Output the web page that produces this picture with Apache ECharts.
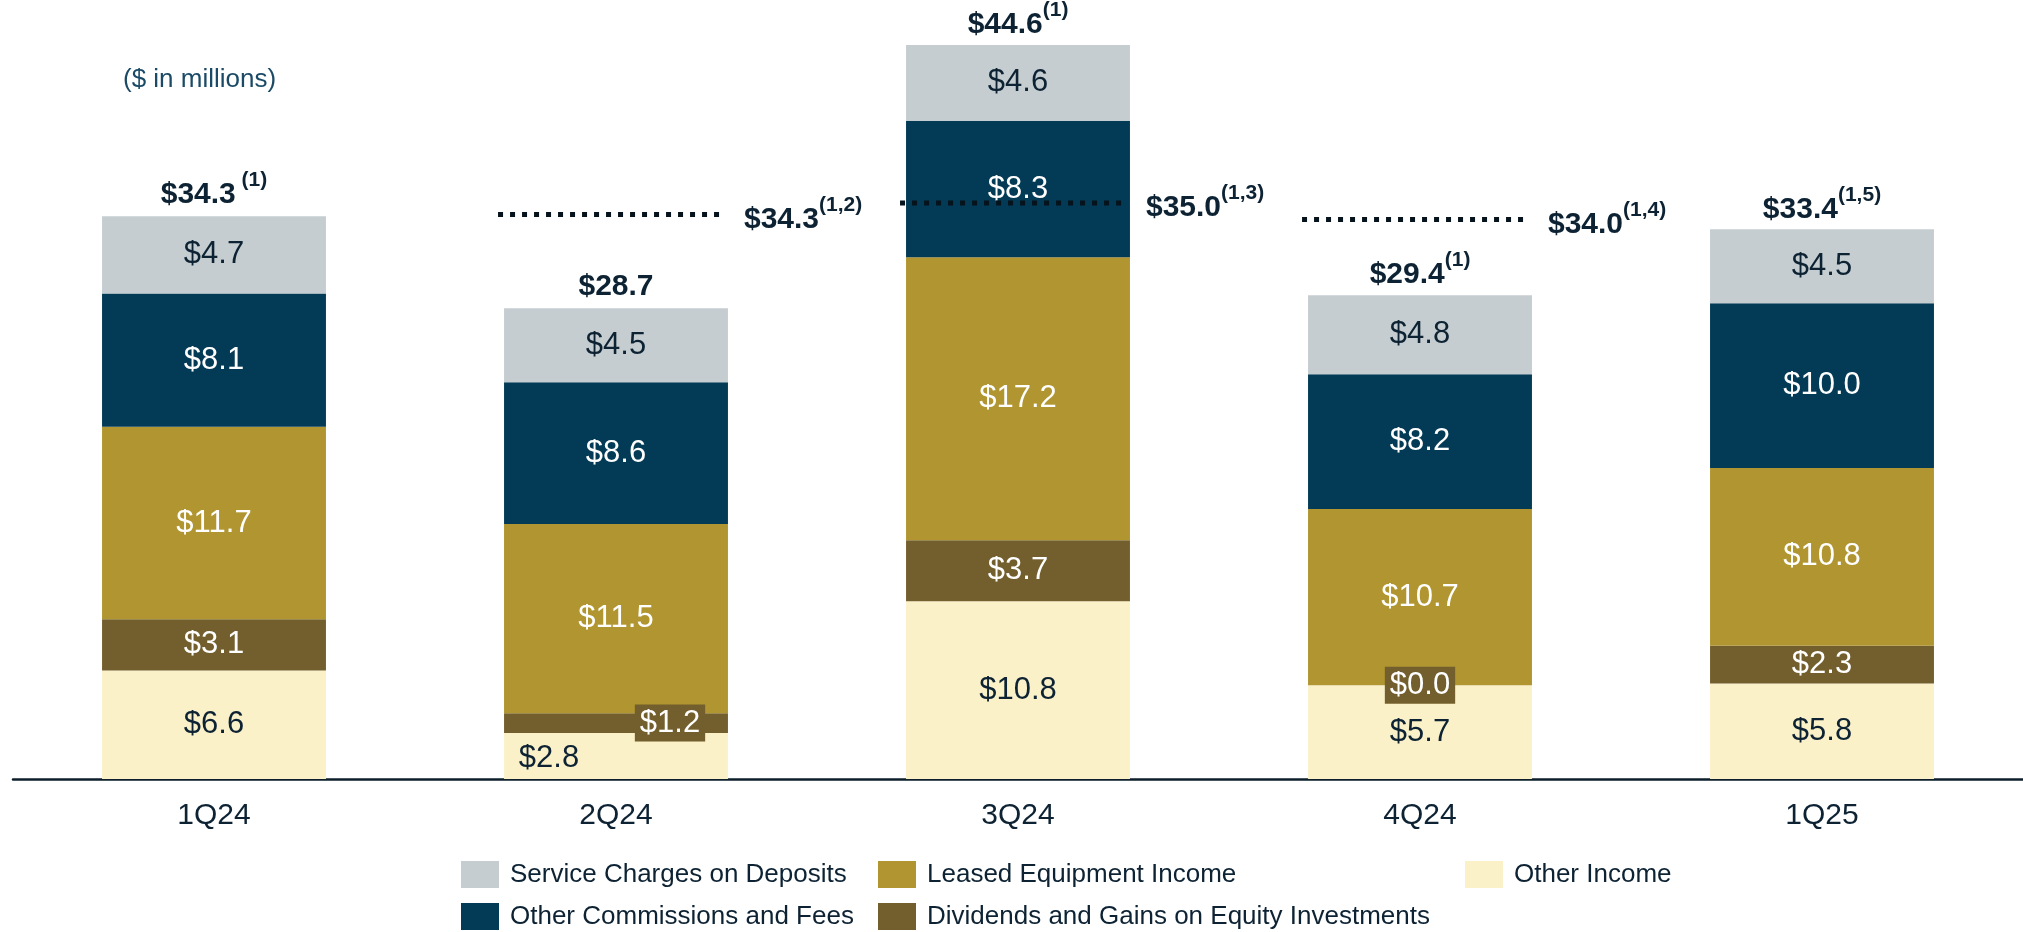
<!DOCTYPE html>
<html>
<head>
<meta charset="utf-8">
<script src="https://cdn.jsdelivr.net/npm/echarts@6/dist/echarts.min.js"></script>
<style>
  html, body { margin: 0; padding: 0; background: #fff; }
  #chart { width: 2023px; height: 932px; }
</style>
</head>
<body>
<div id="chart"></div>
<script>
// data ($ in millions)
var quarters = ['1Q24', '2Q24', '3Q24', '4Q24', '1Q25'];
var otherIncome = [6.6, 2.8, 10.8, 5.7, 5.8];
var dividends = [3.1, 1.2, 3.7, 0.0, 2.3];
var leasedEquipment = [11.7, 11.5, 17.2, 10.7, 10.8];
var otherCommissions = [8.1, 8.6, 8.3, 8.2, 10.0];
var serviceCharges = [4.7, 4.5, 4.6, 4.8, 4.5];
var totals = [34.3, 28.7, 44.6, 29.4, 33.4];
var totalNotes = [' (1)', '', '(1)', '(1)', '(1,5)'];
// adjusted totals (dotted lines)
var adjQuarters = ['2Q24', '3Q24', '4Q24'];
var adjTotals = [34.3, 35.0, 34.0];
var adjNotes = ['(1,2)', '(1,3)', '(1,4)'];

var FONT = '"Liberation Sans", Arial, sans-serif';
var DARK = '#0d2233';
var BAR_PCT = 0.557;

function money(v) { return '$' + v.toFixed(1); }

// rich styles for "$xx.x" + superscript note
function totalRich(colorKey) {
    var v = { fontSize: 30, fontWeight: 'bold', fontFamily: FONT, lineHeight: 40, verticalAlign: 'bottom' };
    var s = { fontSize: 21, fontWeight: 'bold', fontFamily: FONT, lineHeight: 21, verticalAlign: 'top' };
    v[colorKey] = DARK;
    s[colorKey] = DARK;
    return { v: v, s: s };
}

function stackSeries(name, values, color, labelColor, overrides) {
    return {
        name: name,
        type: 'bar',
        stack: 'total',
        barWidth: (BAR_PCT * 100) + '%',
        itemStyle: { color: color },
        label: {
            show: true,
            position: 'inside',
            color: labelColor,
            fontSize: 31,
            fontFamily: FONT,
            formatter: function (p) { return money(p.value); }
        },
        emphasis: { disabled: true },
        data: values.map(function (v, i) {
            if (overrides && overrides[i]) {
                return { value: v, label: overrides[i] };
            }
            return v;
        })
    };
}

function legendBlock(left, names) {
    return {
        left: left, top: 861, orient: 'vertical', padding: 0,
        itemWidth: 38, itemHeight: 27, itemGap: 15,
        icon: 'rect', selectedMode: false,
        textStyle: { color: DARK, fontSize: 26, fontFamily: FONT, padding: [0, 0, 0, 6] },
        data: names
    };
}

var chart = echarts.init(document.getElementById('chart'));

var option = {
    animation: false,
    textStyle: { fontFamily: FONT },
    grid: { left: 13, top: 38.4, width: 2027, bottom: 153, containLabel: false },
    xAxis: {
        type: 'category',
        data: quarters,
        axisLine: { lineStyle: { color: '#0d1f2b', width: 2.5 } },
        axisTick: { show: false },
        axisLabel: { color: DARK, fontSize: 30, fontFamily: FONT, margin: 22 }
    },
    yAxis: { type: 'value', min: 0, max: 45, show: false, splitLine: { show: false } },
    legend: [
        legendBlock(461, ['Service Charges on Deposits', 'Other Commissions and Fees']),
        legendBlock(878, ['Leased Equipment Income', 'Dividends and Gains on Equity Investments']),
        legendBlock(1465, ['Other Income'])
    ],
    graphic: [{
        type: 'text',
        left: 123, top: 67,
        style: { text: '($ in millions)', fill: '#1b4a66', fontSize: 26, fontFamily: FONT }
    }],
    series: [
        stackSeries('Other Income', otherIncome, '#fbf1c9', DARK, {
            1: { offset: [-67, 2] }
        }),
        stackSeries('Dividends and Gains on Equity Investments', dividends, '#735f2d', '#fff', {
            1: { offset: [54, 0], backgroundColor: '#735f2d', padding: [3, 5] },
            3: { backgroundColor: '#735f2d', padding: [3, 5] }
        }),
        stackSeries('Leased Equipment Income', leasedEquipment, '#b09530', '#fff'),
        stackSeries('Other Commissions and Fees', otherCommissions, '#033a55', '#fff'),
        stackSeries('Service Charges on Deposits', serviceCharges, '#c5cdd1', DARK),
        {
            // total labels on top of each bar
            type: 'scatter',
            symbolSize: 0,
            silent: true,
            itemStyle: { opacity: 1 },
            data: totals,
            label: {
                show: true,
                position: 'top',
                distance: 5,
                formatter: function (p) {
                    var note = totalNotes[p.dataIndex];
                    return '{v|' + money(p.value) + '}' + (note ? '{s|' + note + '}' : '');
                },
                rich: totalRich('color')
            }
        },
        {
            // dotted adjusted totals
            type: 'custom',
            silent: true,
            z: 5,
            data: adjQuarters.map(function (q, i) { return [quarters.indexOf(q), adjTotals[i]]; }),
            renderItem: function (params, api) {
                var pt = api.coord([api.value(0), api.value(1)]);
                var bw = api.size([1, 0])[0] * BAR_PCT;
                var note = adjNotes[params.dataIndex];
                return {
                    type: 'group',
                    children: [
                        {
                            type: 'line',
                            shape: { x1: pt[0] - bw / 2 - 6, y1: pt[1], x2: pt[0] + bw / 2 - 6, y2: pt[1] },
                            style: { stroke: '#06131c', lineWidth: 5, lineDash: [5, 7], lineCap: 'butt' }
                        },
                        {
                            type: 'text',
                            style: {
                                x: pt[0] + bw / 2 + 16,
                                y: pt[1],
                                align: 'left',
                                verticalAlign: 'middle',
                                text: '{v|' + money(api.value(1)) + '}{s|' + note + '}',
                                rich: totalRich('fill')
                            }
                        }
                    ]
                };
            }
        }
    ]
};

chart.setOption(option);
</script>
</body>
</html>
